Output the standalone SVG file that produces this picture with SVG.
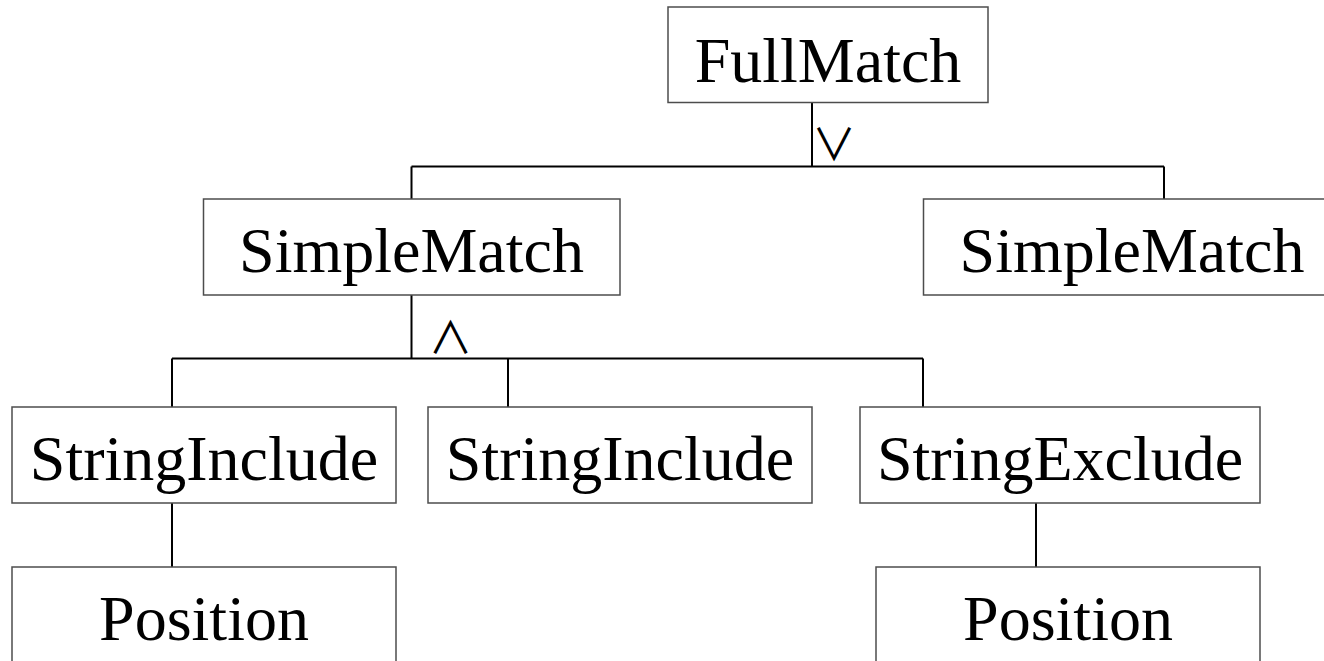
<svg xmlns="http://www.w3.org/2000/svg" width="1324" height="661" viewBox="0 0 1324 661">
  <style>
    .box { fill: #ffffff; stroke: #4d4d4d; stroke-width: 1.5; }
    .label { font-family: "Liberation Serif", "Times New Roman", serif; font-size: 64px; fill: #000000; text-anchor: middle; }
    .op { font-family: "Noto Sans CJK SC", "DejaVu Sans", sans-serif; font-weight: 400; font-size: 44px; fill: #000000; text-anchor: middle; }
    .wire { fill: none; stroke: #000000; stroke-width: 2; }
  </style>
  <rect width="1324" height="661" fill="#ffffff"/>

  <!-- tree connectors with their logical operators -->
  <g id="connectors">
    <path class="wire" d="M812 102 V166.5 M411.5 166.5 H1164 M411.5 166.5 V199 M1164 166.5 V199"/>
    <path class="wire" d="M411.5 295 V358.5 M172 358.5 H923 M172 358.5 V407 M508 358.5 V407 M923 358.5 V407"/>
    <path class="wire" d="M172 503 V567 M1036 503 V567"/>
    <text class="op" x="834" y="161">∨</text>
    <text class="op" x="450.5" y="353.5">∧</text>
  </g>

  <g id="fullmatch">
    <rect class="box" x="668" y="7" width="320" height="95.5"/>
    <text class="label" x="828" y="82">FullMatch</text>
  </g>
  <g id="simplematch-left">
    <rect class="box" x="203.5" y="199" width="416.5" height="96"/>
    <text class="label" x="411.5" y="272">SimpleMatch</text>
  </g>
  <g id="simplematch-right">
    <rect class="box" x="923.5" y="199" width="416.5" height="96"/>
    <text class="label" x="1132" y="272">SimpleMatch</text>
  </g>
  <g id="stringinclude-1">
    <rect class="box" x="12" y="407" width="384" height="96"/>
    <text class="label" x="204" y="480">StringInclude</text>
  </g>
  <g id="stringinclude-2">
    <rect class="box" x="428" y="407" width="384" height="96"/>
    <text class="label" x="620" y="480">StringInclude</text>
  </g>
  <g id="stringexclude">
    <rect class="box" x="860" y="407" width="400" height="96"/>
    <text class="label" x="1060" y="480">StringExclude</text>
  </g>
  <g id="position-1">
    <rect class="box" x="12" y="567" width="384" height="100"/>
    <text class="label" x="204" y="640">Position</text>
  </g>
  <g id="position-2">
    <rect class="box" x="876" y="567" width="384" height="100"/>
    <text class="label" x="1068" y="640">Position</text>
  </g>
</svg>
